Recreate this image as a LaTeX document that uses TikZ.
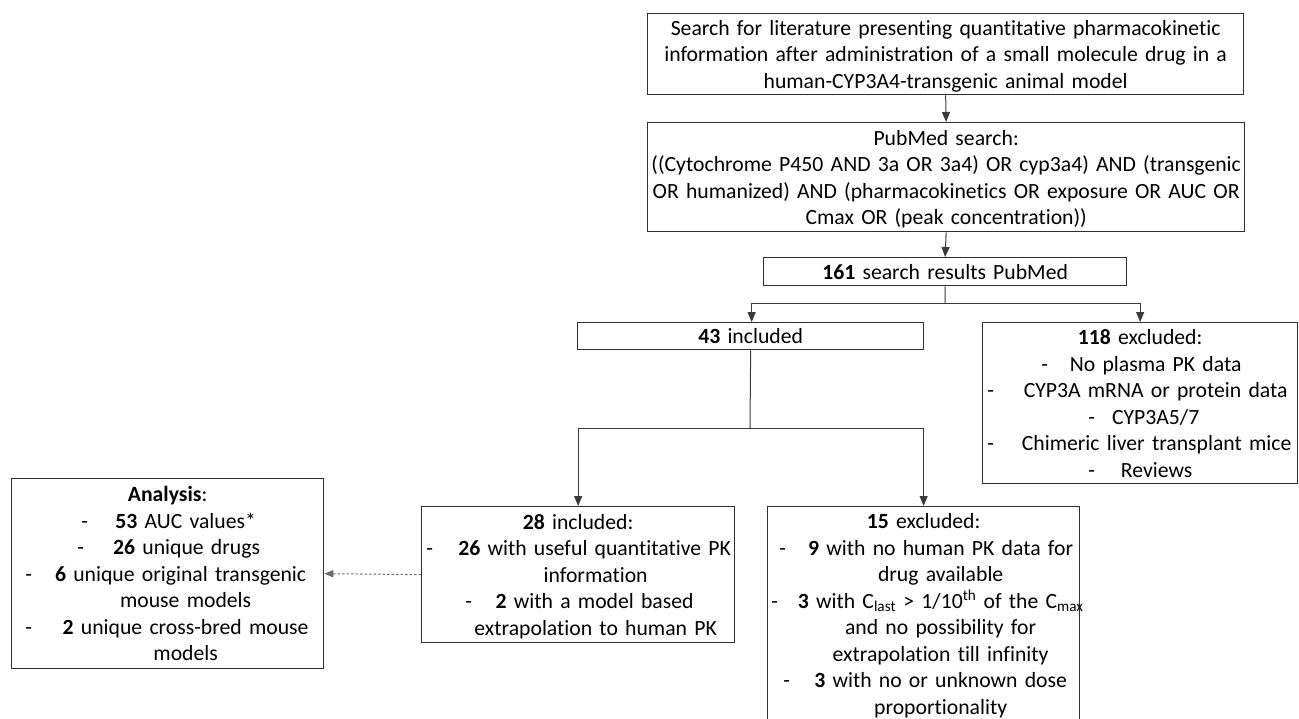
\documentclass[tikz,border=0pt]{standalone}
\usepackage{fontspec}
\setmainfont{Carlito}[Ligatures=NoCommon]
\usetikzlibrary{arrows.meta}
\definecolor{boxc}{HTML}{2E2E2E}
\definecolor{linec}{HTML}{3A3A3A}
\newcommand\mystrut{\rule[-5.5pt]{0pt}{26.5pt}}
\newcommand\hdl[1]{\hbox to\hsize{\mystrut\hss#1\hss}}
\newcommand\dshl[3]{\hbox to\hsize{\mystrut\hskip#1\relax\makebox[0pt]{-}\hskip\dimexpr#2-#1\relax\makebox[0pt]{#3}\hss}}
\newcommand\ctl[2]{\hbox to\hsize{\mystrut\hskip#1\relax\makebox[0pt]{#2}\hss}}
\tikzset{
  flowbox/.style={draw=boxc, line width=1.3pt, inner xsep=0pt, inner ysep=0pt,
    anchor=north west, font=\fontsize{21.7}{26.5}\selectfont},
  conn/.style={draw=linec, line width=1pt},
  arr/.style={conn, -{Triangle[length=10pt,width=8pt]}},
  darr/.style={draw=linec!75, line width=1pt, dash pattern=on 2.5pt off 2pt, -{Triangle[length=9pt,width=7pt]}}
}
\begin{document}
\begin{tikzpicture}[x=1pt,y=-1pt]
\useasboundingbox[fill=white] (0,0) rectangle (1299,718);

\node[flowbox, text width=596pt, minimum height=81pt] (b1) at (647,13) {%
  \hdl{Search for literature presenting quantitative pharmacokinetic}
  \hdl{information after administration of a small molecule drug in a}
  \hdl{human-CYP3A4-transgenic animal model}};

\node[flowbox, text width=597pt, minimum height=109pt] (b2) at (647,122) {%
  \hdl{PubMed search:}
  \hdl{((Cytochrome P450 AND 3a OR 3a4) OR cyp3a4) AND (transgenic}
  \hdl{OR humanized) AND (pharmacokinetics OR exposure OR AUC OR}
  \hdl{Cmax OR (peak concentration))}};

\node[flowbox, text width=363pt, minimum height=28pt] (b3) at (763,257) {%
  \hdl{\textbf{161} search results PubMed}};

\node[flowbox, text width=346pt, minimum height=27pt] (b43) at (577,322) {%
  \hdl{\textbf{43} included}};

\node[flowbox, text width=315pt, minimum height=161pt] (b118) at (982,322) {%
  \hdl{\textbf{118} excluded:}
  \dshl{62pt}{173pt}{No plasma PK data}
  \dshl{8pt}{173pt}{CYP3A mRNA or protein data}
  \dshl{109pt}{173pt}{CYP3A5/7}
  \dshl{8pt}{174pt}{Chimeric liver transplant mice}
  \dshl{109pt}{174pt}{Reviews}};

\node[flowbox, text width=313pt, minimum height=136pt] (b28) at (421,506) {%
  \hdl{\textbf{28} included:}
  \dshl{8pt}{173pt}{\textbf{26} with useful quantitative PK}
  \ctl{174pt}{information}
  \dshl{47pt}{173pt}{\textbf{2} with a model based}
  \ctl{174pt}{extrapolation to human PK}};

\node[flowbox, text width=312pt, minimum height=214pt] (b15) at (767,506) {%
  \hdl{\textbf{15} excluded:}
  \dshl{15pt}{173pt}{\textbf{9} with no human PK data for}
  \ctl{173pt}{drug available}
  \dshl{7pt}{173pt}{\textbf{3} with C\textsubscript{last} > 1/10\textsuperscript{th} of the C\textsubscript{max}}
  \ctl{173pt}{and no possibility for}
  \ctl{173pt}{extrapolation till infinity}
  \dshl{19pt}{173pt}{\textbf{3} with no or unknown dose}
  \ctl{173pt}{proportionality}};

\node[flowbox, text width=312pt, minimum height=190pt] (an) at (11,478) {%
  \hdl{\textbf{Analysis}:}
  \dshl{73pt}{174pt}{\textbf{53} AUC values*}
  \dshl{69pt}{175pt}{\textbf{26} unique drugs}
  \dshl{17pt}{169pt}{\textbf{6} unique original transgenic}
  \ctl{174pt}{mouse models}
  \dshl{17pt}{174pt}{\textbf{2} unique cross-bred mouse}
  \ctl{174pt}{models}};

\coordinate (s1) at (945,303);
\coordinate (s2) at (750,428);

\draw[arr] (b1.south) -- (b2.north);
\draw[arr] (b2.south) -- (b3.north);
\draw[conn] (b3.south) -- (s1);
\draw[arr] (s1) -| ([xshift=1pt]b43.north);
\draw[arr] (s1) -| (b118.north);
\draw[conn] (b43.south) -- (s2);
\draw[arr] (s2) -| (b28.north);
\draw[arr] (s2) -| (b15.north);
\draw[darr] (b28.west) -- (an.east);
\end{tikzpicture}
\end{document}
